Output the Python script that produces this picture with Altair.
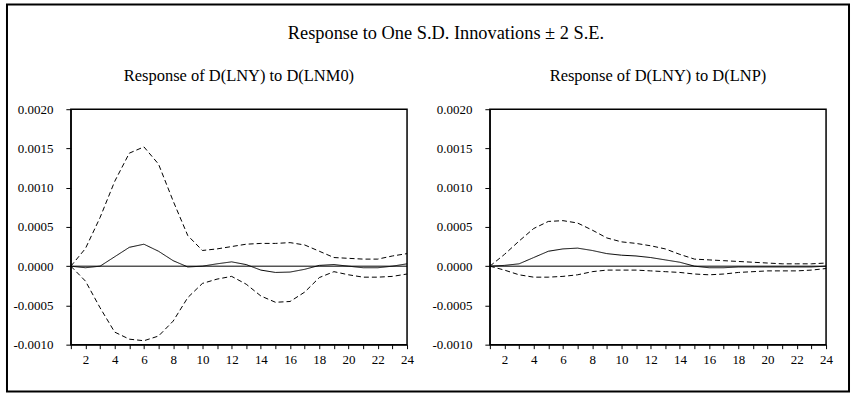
import altair as alt
import pandas as pd

periods = list(range(1, 25))

# Response of D(LNY) to D(LNM0): point estimate and +/- 2 S.E. bands
m0_resp = [0, -0.00002, 0, 0.00012, 0.00024, 0.00028, 0.00019, 0.00007, -0.00001, 0,
           0.00003, 0.000055, 0.00002, -0.00005, -0.00008, -0.000075, -0.00004, 0.00001,
           0.00002, 0, -0.00002, -0.00002, 0, 0.00003]
m0_upper = [0, 0.000225, 0.00062, 0.00108, 0.00144, 0.00152, 0.0013, 0.00083, 0.00039, 0.0002,
            0.00022, 0.00025, 0.00028, 0.00029, 0.00029, 0.0003, 0.00027, 0.00019,
            0.00011, 0.0001, 0.00009, 0.00009, 0.00013, 0.00016]
m0_lower = [0, -0.00019, -0.00053, -0.00084, -0.00093, -0.00095, -0.00089, -0.0007, -0.0004, -0.00022,
            -0.000165, -0.00013, -0.00023, -0.00038, -0.00046, -0.00045, -0.00033, -0.000145,
            -0.00007, -0.00011, -0.00014, -0.00014, -0.00013, -0.0001]

# Response of D(LNY) to D(LNP)
p_resp = [0, 0.00001, 0.00003, 0.00011, 0.00019, 0.00022, 0.00023, 0.0002, 0.00016, 0.00014,
          0.00013, 0.00011, 0.00008, 0.00005, 0, -0.00002, -0.00002, -0.00001,
          -0.00001, -0.00001, -0.00001, -0.00001, -0.00001, 0]
p_upper = [0, 0.00015, 0.00032, 0.00048, 0.00057, 0.00058, 0.00055, 0.00046, 0.00036, 0.00031,
           0.00029, 0.00026, 0.00022, 0.00015, 0.00009, 0.00008, 0.00007, 0.00006,
           0.00005, 0.00004, 0.00003, 0.00003, 0.00003, 0.00004]
p_lower = [0, -0.00005, -0.00011, -0.00014, -0.00014, -0.00013, -0.00011, -0.00007, -0.00005, -0.00005,
           -0.00005, -0.00006, -0.00007, -0.00008, -0.0001, -0.00011, -0.0001, -0.00008,
           -0.00007, -0.00006, -0.00006, -0.00006, -0.00005, -0.00003]

y_ticks = [-0.001, -0.0005, 0.0, 0.0005, 0.001, 0.0015, 0.002]

main_title = "Response to One S.D. Innovations \u00b1 2 S.E."
sub_m0 = "Response of D(LNY) to D(LNM0)"
sub_p = "Response of D(LNY) to D(LNP)"

FONT = "Liberation Serif"
PANEL_W = 337
PANEL_H = 236

one_row = pd.DataFrame({"k": [0]})


def y_enc():
    return alt.Y(
        "value:Q",
        scale=alt.Scale(domain=[-0.001, 0.002], nice=False),
        axis=alt.Axis(
            values=y_ticks, title=None, grid=False, format=".4f",
            labelExpr="replace(datum.label, '\u2212', '-')",
            tickSize=5, labelPadding=13, labelOverlap=False,
        ),
    )


def panel(resp, upper, lower, subtitle, frame=False):
    n = len(periods)
    df = pd.DataFrame({
        "period": periods * 3,
        "value": resp + upper + lower,
        "series": ["Response"] * n + ["Upper"] * n + ["Lower"] * n,
    })
    x = alt.X(
        "period:Q",
        scale=alt.Scale(domain=[1, 24], nice=False, zero=False),
        axis=alt.Axis(
            values=periods, title=None, grid=False,
            labelExpr="datum.value % 2 == 0 ? datum.label : ''",
            tickSize=4, labelPadding=5, labelOverlap=False, labelFlush=False,
        ),
    )
    lines = alt.Chart(df).mark_line(color="black", strokeWidth=1).encode(
        x=x, y=y_enc(),
        detail="series:N",
        strokeDash=alt.StrokeDash(
            "series:N",
            scale=alt.Scale(domain=["Response", "Upper", "Lower"],
                            range=[[1, 0], [5, 3], [5, 3]]),
            legend=None,
        ),
    )
    zero = alt.Chart(pd.DataFrame({"value": [0.0]})).mark_rule(
        color="black", strokeWidth=1
    ).encode(y=y_enc())
    sub = alt.Chart(one_row).mark_text(
        font=FONT, fontSize=16.5, color="black", align="center", baseline="alphabetic"
    ).encode(x=alt.value(PANEL_W / 2), y=alt.value(-28), text=alt.value(subtitle))
    layers = [lines, zero, sub]
    if frame:
        # outer frame around the whole figure plus the figure title
        border = alt.Chart(one_row).mark_rect(
            filled=False, stroke="black", strokeWidth=2
        ).encode(x=alt.value(-64), x2=alt.value(780), y=alt.value(-105), y2=alt.value(283))
        head = alt.Chart(one_row).mark_text(
            font=FONT, fontSize=18.4, color="black", align="center", baseline="alphabetic"
        ).encode(x=alt.value(376), y=alt.value(-70), text=alt.value(main_title))
        layers = layers + [border, head]
    return alt.layer(*layers).properties(width=PANEL_W, height=PANEL_H)


left = panel(m0_resp, m0_upper, m0_lower, sub_m0, frame=True)
right = panel(p_resp, p_upper, p_lower, sub_p)

chart = (
    alt.hconcat(left, right, spacing=83, bounds="flush")
    .properties(padding={"left": 5, "top": 2, "right": 2, "bottom": 2}, background="white")
    .configure_view(stroke="black", strokeWidth=1.5)
    .configure_axis(
        labelFont=FONT, labelFontSize=13, labelColor="black",
        tickColor="black", domainColor="black", domainWidth=1, tickWidth=1,
    )
)

chart.save("out.html", embed_options={"renderer": "svg", "actions": False})
